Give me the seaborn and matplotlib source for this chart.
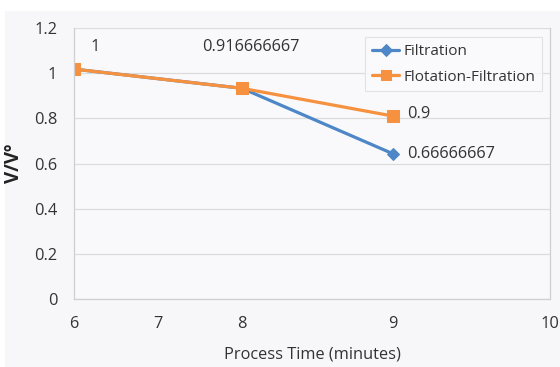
import numpy as np
import pandas as pd
import matplotlib
matplotlib.use("Agg")
import matplotlib.pyplot as plt
from matplotlib.patches import Rectangle
import seaborn as sns

# ---- data ----
time_filtration = [6, 8, 9]
ratio_filtration = [1.018, 0.933, 0.643]
time_flotation = [6, 8, 9]
ratio_flotation = [1.018, 0.933, 0.81]
series_names = ["Filtration", "Flotation-Filtration"]
label_texts = ["1", "0.916666667", "0.9", "0.66666667"]
label_x = [6.2, 7.52, 9.09, 9.09]
label_y = [1.116, 1.116, 0.82, 0.642]
x_ticks = [6, 7, 8, 9, 10]
y_ticks = [0, 0.2, 0.4, 0.6, 0.8, 1, 1.2]
y_tick_labels = ["0", "0.2", "0.4", "0.6", "0.8", "1", "1.2"]

df = pd.DataFrame({
    "time": time_filtration + time_flotation,
    "ratio": ratio_filtration + ratio_flotation,
    "series": [series_names[0]] * len(time_filtration) + [series_names[1]] * len(time_flotation),
})

sns.set_theme(style="white")
plt.rcParams["font.family"] = ["Open Sans", "DejaVu Sans"]

BLUE = "#4d87c7"
ORANGE = "#f5913f"
TXT = "#333333"
FS = 11.8

fig = plt.figure(figsize=(5.6, 3.67), dpi=100, facecolor="white")
fig.patches.append(Rectangle((5 / 560, 0), 1, 1 - 11 / 367, transform=fig.transFigure,
                             facecolor="#f7f7f9", edgecolor="none", zorder=-10))
ax = fig.add_axes([74 / 560, 1 - 299 / 367, (550 - 74) / 560, (299 - 28) / 367])
ax.set_facecolor("#f9f9fb")

sns.lineplot(data=df, x="time", y="ratio", hue="series", style="series",
             hue_order=series_names, style_order=series_names,
             palette={series_names[0]: BLUE, series_names[1]: ORANGE},
             markers={series_names[0]: "D", series_names[1]: "s"},
             dashes=False, linewidth=2.3, ax=ax, legend=True)

for line in ax.lines:
    c = line.get_color()
    line.set_markeredgecolor(c)
    line.set_markerfacecolor(c)
    if line.get_marker() == "D":
        line.set_markersize(6.5)
    else:
        line.set_markersize(8)

# piecewise axis scale matching the reference's spacing
src = np.array([6, 7, 8, 9, 10], dtype=float)
dst = np.array([0, 84, 168, 319, 476], dtype=float)
fwd = lambda v: np.interp(v, src, dst)
inv = lambda v: np.interp(v, dst, src)
ax.set_xscale("function", functions=(fwd, inv))
ax.set_xlim(6, 10)
ax.set_ylim(0, 1.2)
ax.set_xticks(x_ticks)
ax.set_xticklabels([str(t) for t in x_ticks])
ax.set_yticks(y_ticks)
ax.set_yticklabels(y_tick_labels)

ax.grid(axis="y", color="#dcdcdc", linewidth=0.9)
ax.set_axisbelow(True)
for side in ["left", "bottom", "right"]:
    ax.spines[side].set_color("#cfcfcf")
    ax.spines[side].set_linewidth(0.9)
ax.spines["top"].set_visible(False)

ax.tick_params(axis="x", length=5, color="#cfcfcf", pad=7, labelsize=FS, labelcolor=TXT)
ax.tick_params(axis="y", length=0, pad=12, labelsize=FS, labelcolor=TXT)

ax.set_xlabel("Process Time (minutes)", fontsize=FS, color=TXT, labelpad=11)
ax.set_ylabel("V/Vº", fontsize=13.5, color="#222222", fontweight="bold", labelpad=7)

for t, xv, yv in zip(label_texts, label_x, label_y):
    ax.text(xv, yv, t, fontsize=FS, color=TXT, ha="left", va="center")

handles, labels = ax.get_legend_handles_labels()
for h in handles:
    c = h.get_color()
    h.set_markeredgecolor(c)
    h.set_markerfacecolor(c)
    h.set_markersize(6.5)
leg = ax.legend(handles, labels, loc="upper left",
                bbox_to_anchor=(365 / 560, 1 - 37 / 367), bbox_transform=fig.transFigure,
                fontsize=11, frameon=True, fancybox=False, handlelength=1.8,
                handletextpad=0.25, borderpad=0.45, labelspacing=0.7, borderaxespad=0)
leg.get_frame().set_edgecolor("#dddddd")
leg.get_frame().set_facecolor("#fbfbfd")
leg.get_frame().set_linewidth(0.8)
for t in leg.get_texts():
    t.set_color(TXT)

fig.savefig("out.png", dpi=100, facecolor=fig.get_facecolor())
